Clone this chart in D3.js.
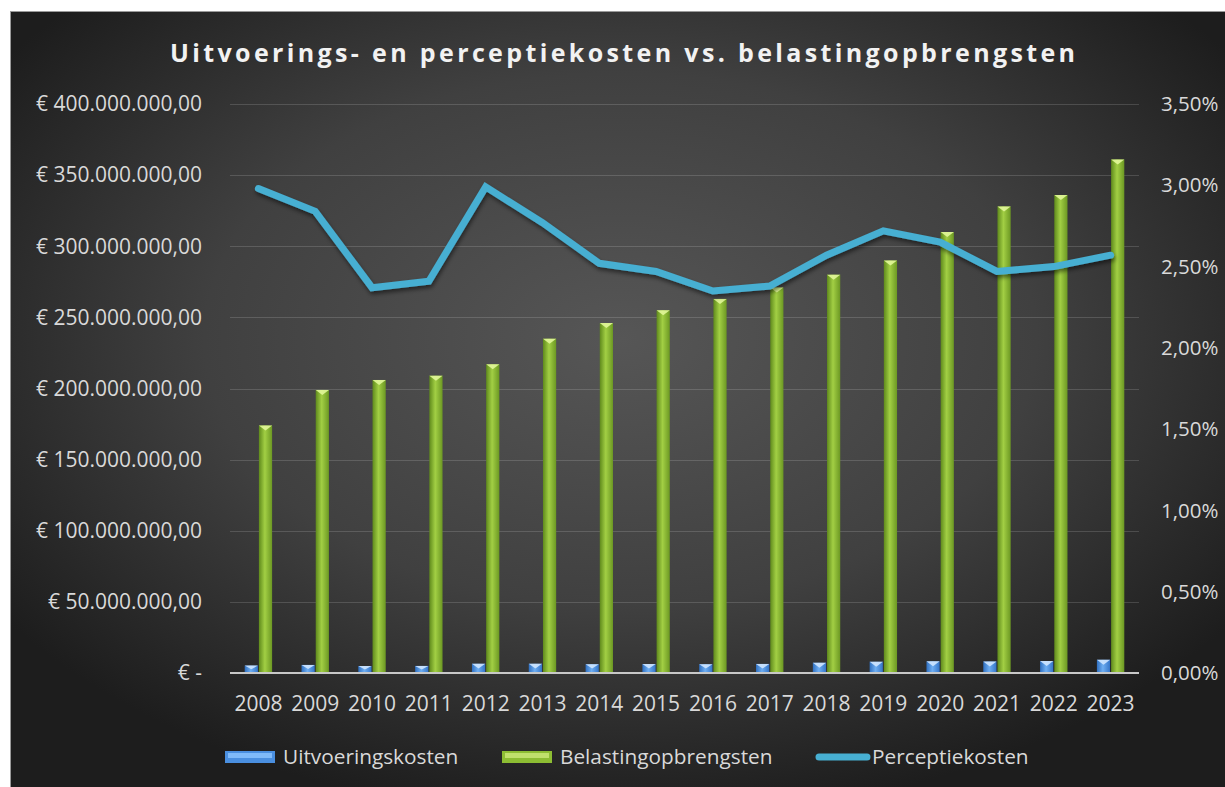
<!DOCTYPE html>
<html>
<head>
<meta charset="utf-8">
<script src="https://cdn.jsdelivr.net/npm/d3@7"></script>
<style>
  html, body { margin: 0; padding: 0; background: #ffffff; }
  svg { display: block; }
  text { font-family: "Open Sans", "Noto Sans", sans-serif; }
</style>
</head>
<body>
<svg id="chart" width="1225" height="787"></svg>
<script>
// ---- data ----
const years = ["2008","2009","2010","2011","2012","2013","2014","2015","2016","2017","2018","2019","2020","2021","2022","2023"];
const uitvoeringskosten = [5.2e6, 5.7e6, 4.9e6, 5.0e6, 6.5e6, 6.5e6, 6.2e6, 6.3e6, 6.2e6, 6.4e6, 7.2e6, 7.9e6, 8.2e6, 8.1e6, 8.4e6, 9.3e6];
const belastingopbrengsten = [174e6, 199e6, 206e6, 209e6, 217e6, 235e6, 246e6, 255e6, 263e6, 271e6, 280e6, 290e6, 310e6, 328e6, 336e6, 361e6];
const perceptiekosten = [0.0298, 0.0284, 0.0237, 0.0241, 0.0299, 0.0277, 0.0252, 0.0247, 0.0235, 0.0238, 0.0257, 0.0272, 0.0265, 0.0247, 0.0250, 0.0257];
const leftTicks = [0, 50e6, 100e6, 150e6, 200e6, 250e6, 300e6, 350e6, 400e6];
const rightTicks = [0, 0.005, 0.01, 0.015, 0.02, 0.025, 0.03, 0.035];
const seriesNames = ["Uitvoeringskosten", "Belastingopbrengsten", "Perceptiekosten"];
const titleText = "Uitvoerings- en perceptiekosten vs. belastingopbrengsten";

// ---- setup ----
const svg = d3.select("#chart");
const nl = d3.formatLocale({decimal: ",", thousands: ".", grouping: [3], currency: ["€ ", ""]});
const fmtLeft = v => v === 0 ? "€ -" : "€ " + nl.format(",.2f")(v);
const fmtRight = v => nl.format(".2f")(v * 100) + "%";

const plot = {left: 230, right: 1139, top: 104, bottom: 673};

const defs = svg.append("defs");
const bg = defs.append("radialGradient").attr("id", "bgGrad")
  .attr("cx", "0.5").attr("cy", "0.42").attr("r", "0.62");
bg.append("stop").attr("offset", "0").attr("stop-color", "#565656");
bg.append("stop").attr("offset", "0.55").attr("stop-color", "#404040");
bg.append("stop").attr("offset", "1").attr("stop-color", "#1d1d1d");

const gG = defs.append("linearGradient").attr("id", "greenGrad").attr("x1", "0").attr("x2", "1");
gG.append("stop").attr("offset", "0").attr("stop-color", "#5f8a1c");
gG.append("stop").attr("offset", "0.45").attr("stop-color", "#a2cf44");
gG.append("stop").attr("offset", "1").attr("stop-color", "#6c9823");
const bG = defs.append("linearGradient").attr("id", "blueGrad").attr("x1", "0").attr("x2", "1");
bG.append("stop").attr("offset", "0").attr("stop-color", "#2f6fc0");
bG.append("stop").attr("offset", "0.45").attr("stop-color", "#6eaef2");
bG.append("stop").attr("offset", "1").attr("stop-color", "#3575c8");

const shadow = defs.append("filter").attr("id", "shadow").attr("x", "-10%").attr("y", "-20%").attr("width", "120%").attr("height", "160%");
shadow.append("feDropShadow").attr("dx", 1).attr("dy", 3).attr("stdDeviation", 2).attr("flood-color", "#000").attr("flood-opacity", 0.5);

// background panel
svg.append("rect").attr("x", 10.5).attr("y", 11.5).attr("width", 1220).attr("height", 780)
  .attr("fill", "url(#bgGrad)").attr("stroke", "#9a9a9a").attr("stroke-width", 1);

// scales
const x0 = d3.scaleBand().domain(years).range([plot.left, plot.right]).paddingInner(0.5).paddingOuter(0.25);
const x1 = d3.scaleBand().domain(["u", "b"]).range([0, x0.bandwidth()]);
const xc = d3.scaleBand().domain(years).range([plot.left, plot.right]);
const yL = d3.scaleLinear().domain([0, 400e6]).range([plot.bottom, plot.top]);
const yR = d3.scaleLinear().domain([0, 0.035]).range([plot.bottom, plot.top]);

// gridlines
svg.append("g").selectAll("line").data(leftTicks.filter(d => d > 0)).join("line")
  .attr("x1", plot.left).attr("x2", plot.right)
  .attr("y1", d => Math.round(yL(d)) + 0.5).attr("y2", d => Math.round(yL(d)) + 0.5)
  .attr("stroke", "#ffffff").attr("stroke-opacity", 0.15).attr("stroke-width", 1);

// left axis labels
svg.append("g").selectAll("text").data(leftTicks).join("text")
  .attr("x", 202).attr("y", d => yL(d)).attr("dy", "0.35em")
  .attr("text-anchor", "end").attr("fill", "#d9d9d9").attr("font-size", 21)
  .text(fmtLeft);

// right axis labels
svg.append("g").selectAll("text").data(rightTicks).join("text")
  .attr("x", 1161).attr("y", d => yR(d)).attr("dy", "0.35em")
  .attr("text-anchor", "start").attr("fill", "#d9d9d9").attr("font-size", 20.5)
  .text(fmtRight);

// bars
function drawBars(values, key, grad, capColor) {
  const g = svg.append("g");
  const bw = x1.bandwidth() - 1;
  years.forEach((yr, i) => {
    const x = x0(yr) + x1(key) + 0.5;
    const yTop = yL(values[i]);
    const h = plot.bottom - yTop;
    g.append("rect").attr("x", x).attr("y", yTop).attr("width", bw).attr("height", h)
      .attr("fill", `url(#${grad})`);
    const capH = Math.min(5, h * 0.5);
    g.append("path")
      .attr("d", `M${x},${yTop} L${x + bw},${yTop} L${x + bw / 2},${yTop + capH} Z`)
      .attr("fill", capColor).attr("opacity", 0.9);
  });
}
drawBars(uitvoeringskosten, "u", "blueGrad", "#cfe6ff");
drawBars(belastingopbrengsten, "b", "greenGrad", "#e2f79a");

// baseline axis
svg.append("line").attr("x1", plot.left).attr("x2", plot.right)
  .attr("y1", plot.bottom).attr("y2", plot.bottom)
  .attr("stroke", "#c8c8c8").attr("stroke-width", 2);

// x labels
svg.append("g").selectAll("text").data(years).join("text")
  .attr("x", d => xc(d) + xc.bandwidth() / 2).attr("y", 711)
  .attr("text-anchor", "middle").attr("fill", "#d9d9d9").attr("font-size", 21)
  .text(d => d);

// line
const line = d3.line()
  .x((d, i) => xc(years[i]) + xc.bandwidth() / 2)
  .y(d => yR(d));
svg.append("path").datum(perceptiekosten).attr("d", line)
  .attr("fill", "none").attr("stroke", "#47afd2").attr("stroke-width", 7)
  .attr("stroke-linejoin", "miter").attr("stroke-linecap", "round")
  .attr("filter", "url(#shadow)");

// title
svg.append("text").attr("x", 170).attr("y", 62)
  .attr("fill", "#f2f2f2").attr("font-size", 25).attr("font-weight", "bold")
  .attr("textLength", 905).attr("lengthAdjust", "spacing")
  .text(titleText);

// legend
const leg = svg.append("g");
const legItems = [
  {name: seriesNames[0], type: "bar", grad: "blueGrad", sx: 225, tx: 283},
  {name: seriesNames[1], type: "bar", grad: "greenGrad", sx: 502, tx: 560},
  {name: seriesNames[2], type: "line", sx: 815, tx: 872}
];
legItems.forEach(it => {
  if (it.type === "bar") {
    leg.append("rect").attr("x", it.sx).attr("y", 751).attr("width", 50).attr("height", 12)
      .attr("fill", it.grad === "blueGrad" ? "#4a8fe0" : "#8dbd33");
    leg.append("rect").attr("x", it.sx + 3).attr("y", 753).attr("width", 44).attr("height", 5)
      .attr("fill", it.grad === "blueGrad" ? "#8cc4ff" : "#cde97a").attr("opacity", 0.8);
  } else {
    leg.append("line").attr("x1", it.sx + 4).attr("x2", it.sx + 52).attr("y1", 757).attr("y2", 757)
      .attr("stroke", "#47afd2").attr("stroke-width", 7).attr("stroke-linecap", "round");
  }
  leg.append("text").attr("x", it.tx).attr("y", 764).attr("fill", "#d9d9d9").attr("font-size", 20.8)
    .text(it.name);
});
</script>
</body>
</html>
